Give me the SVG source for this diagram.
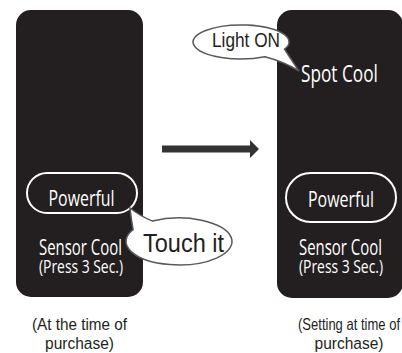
<svg xmlns="http://www.w3.org/2000/svg" width="402" height="353" viewBox="0 0 402 353">
<style>
.panel{fill:#231f20}
.pill{fill:none;stroke:#fff;stroke-width:2}
.wt{fill:#fff;font-family:"Open Sans","Liberation Sans",sans-serif}
.bub{fill:#fff;stroke:#58595b;stroke-width:1.5}
.bt{fill:#231f20;font-family:"Liberation Sans",Arial,sans-serif}
.cap{fill:#231f20;font-family:"Liberation Sans",Arial,sans-serif;font-size:16.5px;text-anchor:middle}
</style>
<rect width="402" height="353" fill="#fff"/>
<g id="panel-left">
<rect class="panel" x="16" y="10" width="127" height="287" rx="15"/>
<rect class="pill" x="27" y="173" width="110" height="40" rx="20"/>
<text class="wt" transform="translate(81.5,206) scale(0.72,1)" font-size="22" text-anchor="middle" textLength="91.7" lengthAdjust="spacingAndGlyphs">Powerful</text>
<text class="wt" transform="translate(39,255) scale(0.72,1)" font-size="22" textLength="115.3" lengthAdjust="spacingAndGlyphs">Sensor Cool</text>
<text class="wt" transform="translate(39,273) scale(0.72,1)" font-size="18" textLength="116.7" lengthAdjust="spacingAndGlyphs">(Press 3 Sec.)</text>
</g>
<g id="panel-right">
<rect class="panel" x="277" y="10" width="126" height="288" rx="15"/>
<rect class="pill" x="286" y="173" width="110" height="49" rx="24.5"/>
<text class="wt" transform="translate(341,207) scale(0.72,1)" font-size="22" text-anchor="middle" textLength="91.7" lengthAdjust="spacingAndGlyphs">Powerful</text>
<text class="wt" transform="translate(299,255) scale(0.72,1)" font-size="22" textLength="115.3" lengthAdjust="spacingAndGlyphs">Sensor Cool</text>
<text class="wt" transform="translate(299,273) scale(0.72,1)" font-size="18" textLength="116.7" lengthAdjust="spacingAndGlyphs">(Press 3 Sec.)</text>
<text class="wt" transform="translate(301,82) scale(0.72,1)" font-size="23" textLength="106.9" lengthAdjust="spacingAndGlyphs">Spot Cool</text>
</g>
<g id="connectors">
<polygon points="162,145.5 250,145.5 250,140 259,149 250,158 250,152.5 162,152.5" fill="#333"/>
</g>
<g id="bubble-touch">
<path class="bub" d="M152.5,221.1 A53,23.5 0 1 1 133.1,229.7 Q131,218 130,208 Q140,216 152.5,221.1 Z"/>
<text class="bt" transform="translate(143,252) scale(0.9,1)" font-size="25" textLength="90" lengthAdjust="spacingAndGlyphs">Touch it</text>
</g>
<g id="bubble-light">
<path class="bub" d="M284.5,49.2 A48,17 0 1 0 265,56.7 Q285,62 299,71 Q290,58 284.5,49.2 Z"/>
<text class="bt" transform="translate(212,47) scale(0.82,1)" font-size="21" textLength="82.9" lengthAdjust="spacingAndGlyphs">Light ON</text>
</g>
<g id="captions">
<text class="cap" transform="translate(79.5,330) scale(0.925,1)" textLength="102.7" lengthAdjust="spacingAndGlyphs">(At the time of</text>
<text class="cap" transform="translate(79.5,349) scale(0.94,1)" textLength="73.4" lengthAdjust="spacingAndGlyphs">purchase)</text>
<text class="cap" transform="translate(349,330) scale(0.8,1)" textLength="127.5" lengthAdjust="spacingAndGlyphs">(Setting at time of</text>
<text class="cap" transform="translate(349,349) scale(0.94,1)" textLength="73.4" lengthAdjust="spacingAndGlyphs">purchase)</text>
</g>
</svg>
